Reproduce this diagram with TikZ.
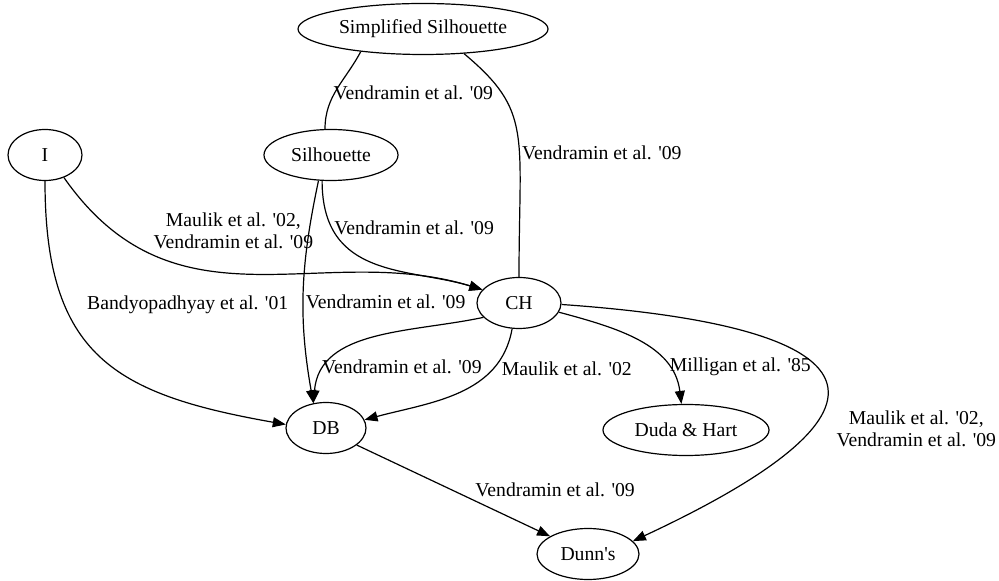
\documentclass[tikz,border=0pt]{standalone}
\usepackage{fontspec}
\setmainfont{Liberation Serif}[Ligatures=TeXOff]
\usetikzlibrary{shapes.geometric,arrows.meta,positioning}

\tikzstyle{ix} = [ellipse, draw=black, inner sep=0pt, minimum height=25.5pt, text centered]

\begin{document}
\begin{tikzpicture}[-,>={Triangle[length=6.5pt,width=5pt]},node distance=60pt,semithick,font=\fontsize{9.85}{11}\selectfont]
\tikzstyle{lab}=[inner sep=1pt, align=center]

\useasboundingbox (0,0) rectangle (499.5pt,-290.5pt);

\node[ix, minimum width=37pt] (i) at (22.5pt,-77.5pt) {I};
\node[ix, minimum width=67pt] (sil) [right of=i, xshift=83pt] {Silhouette};
\node[ix, minimum width=125pt] (simsil) [above of=sil, xshift=46pt, yshift=3pt] {Simplified Silhouette};
\node[ix, minimum width=42pt] (ch) [below of=sil, xshift=94pt, yshift=-14pt] {CH};
\node[ix, minimum width=40pt] (db) [below of=sil, xshift=-2.5pt, yshift=-76.5pt] {DB};
\node[ix, minimum width=83pt] (duda) [right of=db, xshift=120pt, yshift=-1pt] {Duda \& Hart};
\node[ix, minimum width=51pt] (dunn) [below of=db, xshift=131pt, yshift=-3pt] {Dunn's};

% silhouette family
\draw (simsil.-160) to[out=-118, in=90]
  node[lab, pos=0.55, right, xshift=-2pt] (l1) {Vendramin et al. '09} (sil.103);
\draw (simsil.-31) to[out=-40, in=90, in looseness=1.6]
  node[lab, pos=0.6, right] (l2) {Vendramin et al. '09} (ch.north);
\draw[->] (sil.-109) to[out=-90, in=163, out looseness=1.3]
  node[lab, pos=0.2, right] (l3) {Vendramin et al. '09} (ch.160);
\draw[->] (sil.-116) to[out=-102, in=100]
  node[lab, pos=0.55, right] (l4) {Vendramin et al. '09} (db.117);

% from I
\draw[->] (i.-50) to[out=-55, in=163, out looseness=1.15]
  node[lab, pos=0.45, above, yshift=11pt] (l5) {Maulik et al. '02,\\Vendramin et al. '09} (ch.160);
\draw[->] (i.south) to[out=-90, in=170, looseness=1.3]
  node[lab, pos=0.3, right, xshift=10pt] (l6) {Bandyopadhyay et al. '01} (db.175);

% from CH
\draw[->] (ch.-158) to[out=192, in=85]
  node[lab, pos=0.8, right, xshift=-3.5pt] (l7) {Vendramin et al. '09} (db.117);
\draw[->] (ch.-105) to[out=-100, in=15]
  node[lab, pos=0.25, right, xshift=3pt] (l8) {Maulik et al. '02} (db.12);
\draw[->] (ch.-13) to[out=-15, in=97]
  node[lab, pos=0.75, right] (l9) {Milligan et al. '85} (duda.100);
\draw[->] (ch.-2) to[out=-4, in=25, looseness=3.3]
  node[lab, pos=0.68, right, xshift=12pt] (l10) {Maulik et al. '02,\\Vendramin et al. '09} (dunn.16);

% to Dunn's
\draw[->] (db.-29) -- (dunn.155)
  node[lab, pos=0.6, above right] (l11) {Vendramin et al. '09};

\end{tikzpicture}
\end{document}
